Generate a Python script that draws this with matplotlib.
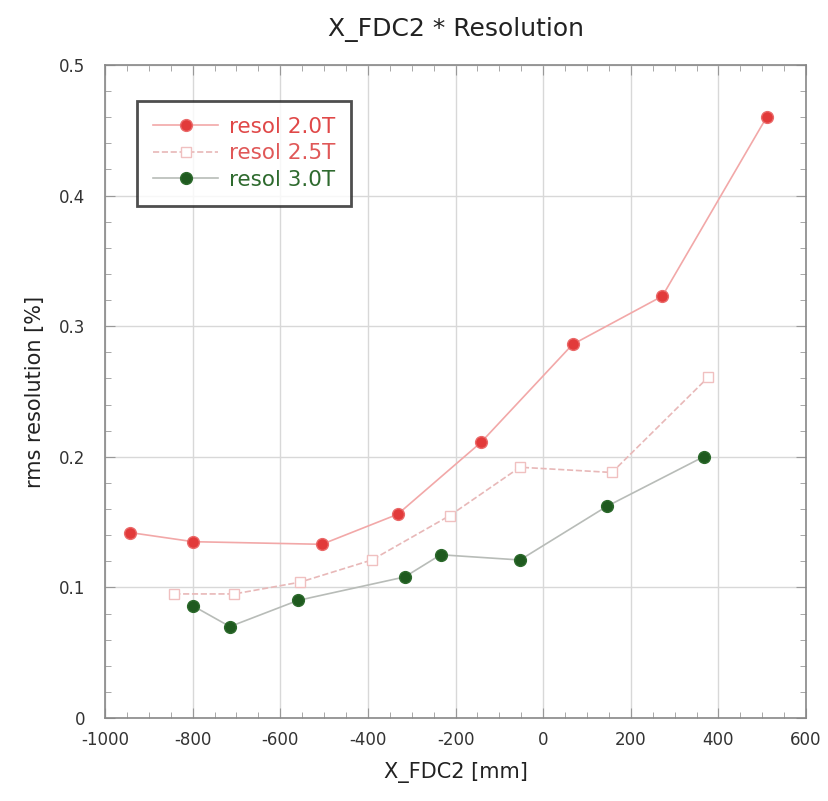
import matplotlib.pyplot as plt
from matplotlib.ticker import MultipleLocator

plt.rcParams['font.family'] = ['DejaVu Sans']
plt.rcParams['axes.unicode_minus'] = False

# rms resolution vs X_FDC2 position for three field settings
x_20 = [-943, -799, -505, -332, -142, 67, 272, 510]
res_20 = [0.142, 0.135, 0.133, 0.156, 0.211, 0.286, 0.323, 0.460]

x_25 = [-842, -705, -555, -391, -213, -53, 157, 377]
res_25 = [0.095, 0.095, 0.104, 0.121, 0.155, 0.192, 0.188, 0.261]

x_30 = [-800, -715, -560, -316, -234, -53, 145, 366]
res_30 = [0.086, 0.070, 0.090, 0.108, 0.125, 0.121, 0.162, 0.200]

fig = plt.figure(figsize=(8.29, 8.01), dpi=100)
ax = fig.add_axes([0.1267, 0.1036, 0.8456, 0.8153])

ax.plot(x_20, res_20, '-', color='#f2a8a8', lw=1.2, marker='o', ms=8.5,
        mfc='#e23a3a', mec='#ea6a6a', label='resol 2.0T')
ax.plot(x_25, res_25, '--', color='#e8b8b8', lw=1.2, marker='s', ms=7.5,
        mfc='white', mec='#f0c0c0', label='resol 2.5T')
ax.plot(x_30, res_30, '-', color='#b8bcb8', lw=1.2, marker='o', ms=8.5,
        mfc='#1f5a1f', mec='#2c6a2c', label='resol 3.0T')

ax.set_xlim(-1000, 600)
ax.set_ylim(0, 0.5)
ax.xaxis.set_major_locator(MultipleLocator(200))
ax.xaxis.set_minor_locator(MultipleLocator(50))
ax.yaxis.set_minor_locator(MultipleLocator(0.02))
ax.set_yticks([0, 0.1, 0.2, 0.3, 0.4, 0.5])
ax.set_yticklabels(['0', '0.1', '0.2', '0.3', '0.4', '0.5'])
ax.tick_params(which='both', direction='in', top=True, right=True,
               color='#999999', labelsize=12, labelcolor='#333333')
ax.tick_params(axis='x', pad=9)
ax.tick_params(axis='y', pad=14)
ax.tick_params(which='major', length=7)
ax.tick_params(which='minor', length=4)
ax.grid(True, which='major', color='#d8d8d8', lw=1)
for s in ax.spines.values():
    s.set_color('#888888')
    s.set_linewidth(1.2)

ax.set_title('X_FDC2 * Resolution', fontsize=18, color='#222222', pad=21)
ax.set_xlabel('X_FDC2 [mm]', fontsize=15, color='#222222', labelpad=10)
ax.set_ylabel('rms resolution [%]', fontsize=15, color='#222222', labelpad=10)

leg = ax.legend(loc='upper left', bbox_to_anchor=(0.046, 0.945),
                borderaxespad=0, fontsize=15.5, frameon=True, fancybox=False,
                handlelength=3.0, borderpad=0.75, labelspacing=0.3,
                handletextpad=0.5)
leg.get_frame().set_edgecolor('#222222')
leg.get_frame().set_linewidth(2)
for t, c in zip(leg.get_texts(), ['#e04848', '#e05858', '#2e6a2e']):
    t.set_color(c)

plt.savefig('out.png', dpi=100)
